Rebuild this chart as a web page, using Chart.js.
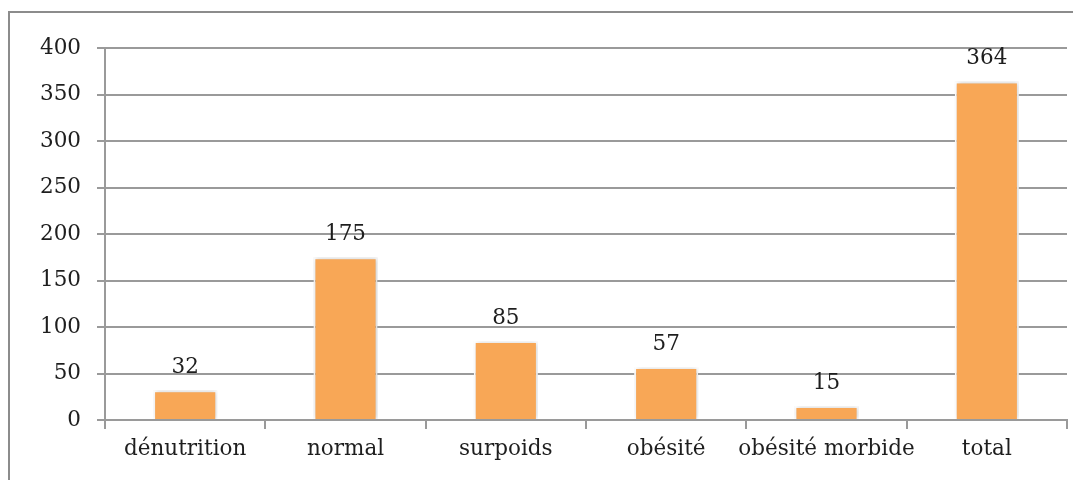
<!DOCTYPE html>
<html>
<head>
<meta charset="utf-8">
<script src="https://cdn.jsdelivr.net/npm/chart.js@4"></script>
<style>
  html, body { margin: 0; padding: 0; background: #fff; }
  #wrap { width: 1073px; height: 480px; position: relative; }
</style>
</head>
<body>
<div id="wrap"><canvas id="c" width="1073" height="480"></canvas></div>
<script>
const categories = ['dénutrition', 'normal', 'surpoids', 'obésité', 'obésité morbide', 'total'];
const counts = [32, 175, 85, 57, 15, 364];
const yTicks = [0, 50, 100, 150, 200, 250, 300, 350, 400];

const FONT = { family: '"DejaVu Serif", serif', size: 21.5 };
const INK = '#1e1e1e';
const GRID = '#9a9a9a';

// outer frame around the figure
const framePlugin = {
  id: 'frame',
  beforeDraw(chart) {
    const ctx = chart.ctx;
    ctx.save();
    ctx.fillStyle = '#fff';
    ctx.fillRect(0, 0, chart.width, chart.height);
    ctx.strokeStyle = '#8c8c8c';
    ctx.lineWidth = 2;
    ctx.strokeRect(9, 12, chart.width + 20, chart.height + 20);
    ctx.restore();
  }
};

// soft shadow under each bar
const shadowPlugin = {
  id: 'barShadow',
  beforeDatasetsDraw(chart) {
    const ctx = chart.ctx;
    ctx.save();
    ctx.shadowColor = 'rgba(0,0,0,0.22)';
    ctx.shadowBlur = 5;
    ctx.shadowOffsetX = 1;
    ctx.shadowOffsetY = 0;
  },
  afterDatasetsDraw(chart) {
    chart.ctx.restore();
  }
};

// value printed above each bar
const valueLabels = {
  id: 'valueLabels',
  afterDatasetsDraw(chart) {
    const ctx = chart.ctx;
    const meta = chart.getDatasetMeta(0);
    ctx.save();
    ctx.font = `${FONT.size}px ${FONT.family}`;
    ctx.fillStyle = INK;
    ctx.textAlign = 'center';
    ctx.textBaseline = 'bottom';
    meta.data.forEach((bar, i) => {
      ctx.fillText(String(counts[i]), bar.x, bar.y - 12);
    });
    ctx.restore();
  }
};

new Chart(document.getElementById('c'), {
  type: 'bar',
  data: {
    labels: categories,
    datasets: [{
      data: counts,
      backgroundColor: '#f8a756',
      borderColor: '#ffffff',
      borderWidth: 2,
      categoryPercentage: 0.4,
      barPercentage: 1.0
    }]
  },
  options: {
    responsive: false,
    animation: false,
    devicePixelRatio: 1,
    layout: { padding: { left: 0, top: 48, right: 6, bottom: 0 } },
    plugins: { legend: { display: false }, tooltip: { enabled: false } },
    scales: {
      x: {
        offset: true,
        grid: {
          display: true,
          offset: true,
          drawOnChartArea: false,
          drawTicks: true,
          tickLength: 9,
          color: GRID,
          lineWidth: 2
        },
        border: { display: true, color: GRID, width: 2 },
        ticks: { color: INK, font: FONT, padding: 8, maxRotation: 0, autoSkip: false },
        afterFit(s) { s.height = 60; }
      },
      y: {
        min: 0,
        max: 400,
        afterBuildTicks(s) { s.ticks = yTicks.map(v => ({ value: v })); },
        grid: {
          color: GRID,
          lineWidth: 2,
          drawTicks: true,
          tickLength: 8
        },
        border: { display: true, color: GRID, width: 2 },
        ticks: { color: INK, font: FONT, padding: 16 },
        afterFit(s) { s.width = 105; }
      }
    }
  },
  plugins: [framePlugin, shadowPlugin, valueLabels]
});
</script>
</body>
</html>
